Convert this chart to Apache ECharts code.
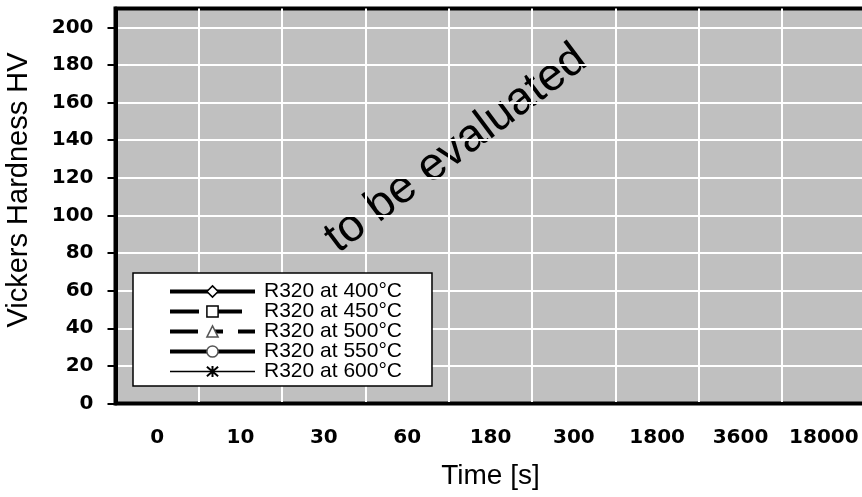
<!DOCTYPE html>
<html>
<head>
<meta charset="utf-8">
<title>Vickers Hardness</title>
<script src="https://cdn.jsdelivr.net/npm/echarts@6/dist/echarts.min.js"></script>
<style>
  html, body { margin: 0; padding: 0; background: #fff; }
  #chart { width: 862px; height: 497px; }
</style>
</head>
<body>
<div id="chart"></div>
<script>
// time categories on the x axis (s)
var timeLabels = ['0', '10', '30', '60', '180', '300', '1800', '3600', '18000']
// y ticks
var yTicks = [0, 20, 40, 60, 80, 100, 120, 140, 160, 180, 200]
var seriesNames = ['R320 at 400°C', 'R320 at 450°C', 'R320 at 500°C', 'R320 at 550°C', 'R320 at 600°C']
// no measurements yet - "to be evaluated"
var hv400 = []
var hv450 = []
var hv500 = []
var hv550 = []
var hv600 = []

// per series look: symbol, line width, dash, marker border colour
var looks = [
  { symbol: 'diamond', width: 4, type: 'solid', mark: '#000' },
  { symbol: 'rect', width: 4, type: [29, 14], mark: '#000' },
  { symbol: 'triangle', width: 4, type: [28, 15, 10, 15], mark: '#555' },
  { symbol: 'circle', width: 4, type: 'solid', mark: '#555' },
  { symbol: 'path://M0,0L10,10M10,0L0,10M5,-1L5,11', width: 1.5, type: 'solid', mark: '#000' }
]
var allValues = [hv400, hv450, hv500, hv550, hv600]

var myChart = echarts.init(document.getElementById('chart'))

var series = []
var legendData = []
seriesNames.forEach(function (name, i) {
  var lk = looks[i]
  series.push({
    name: name,
    type: 'line',
    data: allValues[i],
    symbol: lk.symbol,
    symbolSize: 10,
    color: '#000',
    lineStyle: { color: '#000', width: lk.width, type: lk.type },
    itemStyle: { color: '#fff', borderColor: lk.mark, borderWidth: 1.5 }
  })
  legendData.push({
    name: name,
    lineStyle: { color: '#000', width: lk.width, type: lk.type },
    itemStyle: { color: '#fff', borderColor: lk.mark, borderWidth: lk.symbol.indexOf('path') === 0 ? 2 : 1.5 }
  })
})

var option = {
  animation: false,
  grid: {
    left: 115.5,
    top: 8.5,
    width: 750,
    height: 395,
    containLabel: false,
    outerBoundsMode: 'none',
    show: true,
    backgroundColor: '#c0c0c0',
    borderColor: '#000',
    borderWidth: 4
  },
  legend: {
    orient: 'vertical',
    left: 133,
    top: 273,
    backgroundColor: '#fff',
    borderColor: '#000',
    borderWidth: 1.5,
    padding: [8, 30, 4, 35],
    itemGap: -1,
    itemWidth: 85,
    itemHeight: 14,
    textStyle: {
      fontFamily: 'Liberation Sans',
      fontSize: 21,
      lineHeight: 19,
      color: '#000',
      padding: [0, 0, 0, 4]
    },
    data: legendData
  },
  xAxis: {
    type: 'category',
    data: timeLabels,
    boundaryGap: true,
    name: 'Time [s]',
    nameLocation: 'middle',
    nameGap: 59,
    nameTextStyle: { fontFamily: 'Liberation Sans', fontSize: 28, color: '#000' },
    axisLine: { lineStyle: { color: '#000', width: 3 } },
    axisTick: { interval: 1, length: 8, lineStyle: { color: '#000', width: 2 } },
    axisLabel: {
      interval: 0,
      margin: 24,
      fontFamily: 'DejaVu Sans',
      fontWeight: 'bold',
      fontSize: 20,
      color: '#000'
    },
    splitLine: { show: true, interval: 0, lineStyle: { color: '#fff', width: 2 } }
  },
  yAxis: {
    type: 'value',
    min: 0,
    max: 210,
    interval: 20,
    name: 'Vickers Hardness HV',
    nameLocation: 'middle',
    nameGap: 82,
    nameTextStyle: { fontFamily: 'Liberation Sans', fontSize: 29, color: '#000', padding: [0, 0, 0, 32] },
    axisLine: { show: true, lineStyle: { color: '#000', width: 4 } },
    axisTick: { show: true, length: 8, customValues: yTicks, lineStyle: { color: '#000', width: 2 } },
    axisLabel: {
      customValues: yTicks,
      margin: 22,
      fontFamily: 'DejaVu Sans',
      fontWeight: 'bold',
      fontSize: 20,
      color: '#000'
    },
    splitLine: { show: true, lineStyle: { color: '#fff', width: 2 } }
  },
  graphic: [{
    type: 'text',
    x: 456,
    y: 149,
    rotation: 37 * Math.PI / 180,
    style: {
      text: 'to be evaluated',
      fontFamily: 'Liberation Sans',
      fontSize: 46,
      fill: '#000',
      align: 'center',
      verticalAlign: 'middle'
    }
  }],
  series: series
}
myChart.setOption(option)
</script>
</body>
</html>
